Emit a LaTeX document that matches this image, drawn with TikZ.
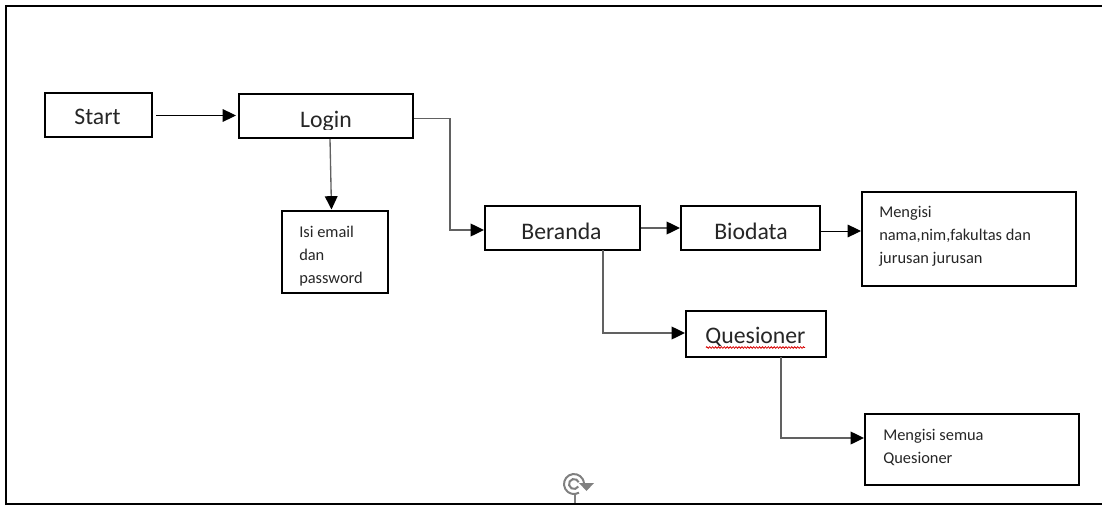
\documentclass[tikz,border=0pt]{standalone}
\usepackage{fontspec}
\setmainfont{Carlito}
\usetikzlibrary{arrows.meta,decorations.pathmorphing}
\tikzset{
  big/.style={font=\fontsize{17.8}{20}\selectfont,text=black!85},
  small/.style={font=\fontsize{12.3}{17.25}\selectfont,text=black!85,align=left,anchor=north west,inner sep=0pt},
  boxn/.style={draw=black,line width=1.6pt,rectangle,inner sep=0pt,fill=white},
  flow/.style={-{Triangle[length=10pt,width=9.5pt,black]},black,line width=0.75pt},
  flowg/.style={-{Triangle[length=10pt,width=9.5pt,black]},black!62,line width=1pt},
  frame/.style={black,line width=1.5pt}
}
\newcommand{\mybox}[6]{\node[boxn,minimum width=#3*0.75pt,minimum height=#4*0.75pt] (#1) at (#5,#6) {};}
\begin{document}
\begin{tikzpicture}[x=0.75pt,y=-0.75pt]
\useasboundingbox (0,0) rectangle (1102,506);
\draw[frame] (6,505) -- (6,6) -- (1102,6);
\draw[frame] (6,503.5) -- (1102,503.5);
% boxes
\mybox{start}{Start}{107}{44}{98.5}{115}
\mybox{login}{Login}{174}{44}{326}{116}
\mybox{isi}{}{106}{82}{335}{252}
\mybox{beranda}{}{155}{44}{562.5}{228}
\mybox{biodata}{}{139}{44}{750.5}{228}
\mybox{isib}{}{214}{94}{969}{239}
\mybox{ques}{}{140}{46}{756}{334}
\mybox{isiq}{}{214}{71}{972}{449.5}
% box texts
\node[big] (tstart) at (97.5,117) {Start};
\begin{scope}
\clip (240,95) rectangle (412,129.5);
\node[big] (tlogin) at (326,121) {Login};
\end{scope}
\node[big] (tberanda) at (561.5,231) {Beranda};
\node[big] (tbiodata) at (751,231) {Biodata};
\node[big] (tques) at (755.5,337) {Quesioner};
\draw[red!85!black,line width=0.6pt,decorate,decoration={zigzag,segment length=2.2pt,amplitude=0.6pt}] (706,347.5) -- (805,347.5);
\begin{scope}
\clip (283,212) rectangle (387,285.5);
\node[small] (tisi) at (299,226) {Isi email\\dan\\password};
\end{scope}
\node[small] (tisib) at (879,206) {Mengisi\\nama,nim,fakultas dan\\jurusan jurusan};
\node[small] (tisiq) at (883,429) {Mengisi semua\\Quesioner};
% connectors
\coordinate (sa) at (156,115.5);
\coordinate (la) at (236,115.5);
\draw[flow] (sa) -- (la);
\draw[flowg] (330,139) -- (331.5,209.5);
\draw[flowg] (login.east |- 0,118.5) -- (450,118.5) -- (450,230) -- (484,230);
\draw[flowg] (beranda.east |- 0,228) -- (680,228);
\draw[flow] (biodata.east |- 0,231) -- (861,231);
\draw[flowg] (603,250) -- (603,333) -- (685,333);
\draw[flowg] (781,357) -- (781,438) -- (864,438);
% rotate handle
\draw[black!50,line width=0.8pt] (575,494) -- (575,503);
\draw[black!50,line width=1.5pt] (579,492.7) arc (60:360:10);
\draw[black!50,line width=1.5pt] (578.3,486.5) arc (30:340:5);
\fill[black!50] (579,483) -- (594,483) -- (586.5,491) -- cycle;
\end{tikzpicture}
\end{document}
